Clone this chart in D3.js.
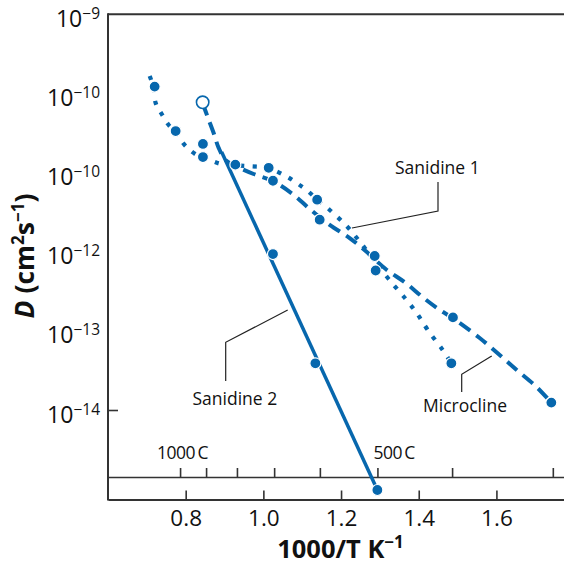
<!DOCTYPE html>
<html><head><meta charset="utf-8">
<script src="https://cdn.jsdelivr.net/npm/d3@7"></script>
<style>
html,body{margin:0;padding:0;background:#fff;}
svg{display:block;font-family:"Open Sans",sans-serif;}
</style></head>
<body><svg id="c" width="564" height="565"></svg>
<script>
// ---------- data ----------
const xTicks = [0.8, 1.0, 1.2, 1.4, 1.6];
const yTickValues = [1e-9, 1e-10, 1e-11, 1e-12, 1e-13, 1e-14];
const yTickExps = ["\u22129", "\u221210", "\u221210", "\u221212", "\u221213", "\u221214"];
const tempTicksC = [1000, 900, 800, 700, 600, 500, 400, 300];
const tempLabelC = [1000, 500];
const tempLabelText = ["1000\u2009C", "500\u2009C"];

// Sanidine 1 (dotted)
const san1PtsX = [0.7201, 0.7742, 0.8444, 1.0137, 1.1385, 1.2866, 1.4840];
const san1PtsD = [1.22e-10, 3.35e-11, 1.57e-11, 1.15e-11, 4.54e-12, 8.83e-13, 3.89e-14];
const san1CurveX = [0.7073,0.7176,0.7227,0.7382,0.7562,0.7742,0.7974,0.8283,0.8617,0.8926,0.9570,1.0111,1.0574,1.0857,1.1141,1.1398,1.1707,1.2145,1.2531,1.2866,1.3226,1.3664,1.3947,1.4230,1.4616,1.4822];
const san1CurveD = [1.66e-10,1.17e-10,7.57e-11,5.50e-11,3.99e-11,3.26e-11,2.23e-11,1.67e-11,1.44e-11,1.28e-11,1.21e-11,1.14e-11,9.06e-12,7.38e-12,5.85e-12,4.50e-12,3.37e-12,2.11e-12,1.25e-12,7.64e-13,4.52e-13,2.53e-13,1.68e-13,1.03e-13,5.73e-14,4.04e-14];

// Microcline (dashed)
const micPtsX = [0.9279, 1.0247, 1.1450, 1.2891, 1.4881, 1.7414];
const micPtsD = [1.26e-11, 7.89e-12, 2.54e-12, 5.79e-13, 1.48e-13, 1.24e-14];
const micOpenX = [0.8437];
const micOpenD = [7.73e-11];
const micCurveX = [0.8437,0.8566,0.8720,0.8849,0.9029,0.9338,0.9750,1.0239,1.0754,1.1192,1.1707,1.2222,1.2634,1.3149,1.3664,1.4127,1.4539,1.4874,1.5569,1.6084,1.6522,1.7036,1.7423];
const micCurveD = [7.57e-11,5.04e-11,3.16e-11,2.05e-11,1.44e-11,1.18e-11,9.60e-12,7.83e-12,5.36e-12,3.47e-12,2.18e-12,1.49e-12,1.02e-12,6.05e-13,4.03e-13,2.60e-13,1.84e-13,1.45e-13,8.13e-14,4.95e-14,3.20e-14,1.95e-14,1.22e-14];

// Sanidine 2 (solid)
const san2PtsX = [0.8444, 1.0247, 1.1339, 1.2935];
const san2PtsD = [2.30e-11, 9.35e-13, 3.89e-14, 9.75e-16];
const san2LineX = [0.8926, 1.2935];
const san2LineD = [1.82e-11, 9.75e-16];

// ---------- layout ----------
const W = 564, H = 565;
const L = 108, R = 564, T = 14.3, B = 499.5, SEC = 477;
const BLUE = "#0767ad", AX = "#333";
const svg = d3.select("#c");

const x = d3.scaleLinear().domain([0.6, 1.774]).range([L, R]);
const y = d3.scaleLog().domain([1e-9, 1e-14]).range([T, 410]);

// frame lines
svg.append("line").attr("x1", L).attr("x2", R).attr("y1", T).attr("y2", T)
  .attr("stroke", AX).attr("stroke-width", 2);
svg.append("line").attr("x1", L).attr("x2", L).attr("y1", T - 1).attr("y2", B + 1)
  .attr("stroke", AX).attr("stroke-width", 2);

// bottom axis
const gx = svg.append("g").attr("transform", `translate(0,${B})`)
  .call(d3.axisBottom(x).tickValues(xTicks).tickSizeInner(-9).tickSizeOuter(0)
    .tickPadding(11).tickFormat(d3.format(".1f")));
gx.select(".domain").attr("stroke", AX).attr("stroke-width", 2);
gx.selectAll(".tick line").attr("stroke", AX).attr("stroke-width", 1.6);
gx.selectAll(".tick text").attr("font-size", 22.5).attr("fill", "#111")
  .attr("font-family", "'Open Sans',sans-serif");

// secondary temperature axis
const gt = svg.append("g").attr("transform", `translate(0,${SEC})`)
  .call(d3.axisBottom(x).tickValues(tempTicksC.map(c => 1000 / (c + 273)))
    .tickSizeInner(-9).tickSizeOuter(0).tickFormat(""));
gt.select(".domain").attr("stroke", AX).attr("stroke-width", 1.6);
gt.selectAll(".tick line").attr("stroke", AX).attr("stroke-width", 1.6);
svg.selectAll("text.temp").data(tempLabelC).join("text").attr("class", "temp")
  .attr("x", (c, i) => x(1000 / (c + 273)) + (i === 0 ? -23 : -4))
  .attr("y", 459)
  .attr("font-size", 17.5).attr("letter-spacing", -0.5).attr("fill", "#111")
  .text((c, i) => tempLabelText[i]);

// left axis tick (only 10^-14 is ticked)
const gy = svg.append("g").attr("transform", `translate(${L},0)`)
  .call(d3.axisRight(y).tickValues([1e-14]).tickSize(10).tickFormat(""));
gy.select(".domain").remove();
gy.selectAll(".tick line").attr("stroke", AX).attr("stroke-width", 1.6);

// y tick labels
const yl = svg.selectAll("text.ylab").data(yTickValues).join("text").attr("class", "ylab")
  .attr("x", 100).attr("y", d => y(d) + 12.5)
  .attr("text-anchor", "end").attr("font-size", 23).attr("fill", "#111");
yl.append("tspan").text("10");
yl.append("tspan").attr("dy", -8).attr("font-size", 15.5).text((d, i) => yTickExps[i]);

// axis titles
const xt = svg.append("text").attr("x", 340.5).attr("y", 557.5).attr("text-anchor", "middle")
  .attr("font-size", 25.5).attr("font-weight", "bold").attr("fill", "#111");
xt.append("tspan").text("1000/T K");
xt.append("tspan").attr("dy", -10).attr("font-size", 17).text("\u22121");

const ytt = svg.append("text").attr("transform", "translate(34,256) rotate(-90)")
  .attr("text-anchor", "middle").attr("font-size", 26.5).attr("font-weight", "bold").attr("fill", "#111");
ytt.append("tspan").attr("font-style", "italic").text("D");
ytt.append("tspan").text(" (cm");
ytt.append("tspan").attr("dy", -10).attr("font-size", 17).text("2");
ytt.append("tspan").attr("dy", 10).text("s");
ytt.append("tspan").attr("dy", -10).attr("font-size", 17).text("\u22121");
ytt.append("tspan").attr("dy", 10).text(")");

// curves
const line = d3.line().x(d => x(d[0])).y(d => y(d[1])).curve(d3.curveCatmullRom);
const zip = (a, b) => a.map((v, i) => [v, b[i]]);

svg.append("path").datum(zip(san2LineX, san2LineD)).attr("d", d3.line().x(d => x(d[0])).y(d => y(d[1])))
  .attr("fill", "none").attr("stroke", BLUE).attr("stroke-width", 3.5);
svg.append("path").datum(zip(san1CurveX, san1CurveD)).attr("d", line)
  .attr("fill", "none").attr("stroke", BLUE).attr("stroke-width", 4.2).attr("stroke-dasharray", "4.2,8.5");
svg.append("path").datum(zip(micCurveX, micCurveD)).attr("d", line)
  .attr("fill", "none").attr("stroke", BLUE).attr("stroke-width", 4).attr("stroke-dasharray", "13,7.5");

// points
const allPts = zip(san1PtsX, san1PtsD).concat(zip(micPtsX, micPtsD), zip(san2PtsX, san2PtsD));
svg.selectAll("circle.pt").data(allPts).join("circle").attr("class", "pt")
  .attr("cx", d => x(d[0])).attr("cy", d => y(d[1])).attr("r", 5.5)
  .attr("fill", BLUE).attr("stroke", "#fff").attr("stroke-width", 1.2);
svg.selectAll("circle.open").data(zip(micOpenX, micOpenD)).join("circle").attr("class", "open")
  .attr("cx", d => x(d[0])).attr("cy", d => y(d[1])).attr("r", 6.2)
  .attr("fill", "#fff").attr("stroke", BLUE).attr("stroke-width", 1.6);

// labels with leaders
const notes = [
  {text: "Sanidine 1", tx: 395, ty: 174, pts: [[438, 182], [438, 211], [352, 228]]},
  {text: "Sanidine 2", tx: 192.5, ty: 405, pts: [[225.7, 381], [225.7, 342.3], [287.7, 310]]},
  {text: "Microcline", tx: 423, ty: 411.5, pts: [[461.7, 392], [461.7, 374.3], [491.7, 356]]}
];
notes.forEach(n => {
  svg.append("polyline").attr("points", n.pts.map(p => p.join(",")).join(" "))
    .attr("fill", "none").attr("stroke", "#222").attr("stroke-width", 1.2);
  svg.append("text").attr("x", n.tx).attr("y", n.ty).attr("font-size", 17.5).attr("fill", "#111").text(n.text);
});
</script></body></html>
